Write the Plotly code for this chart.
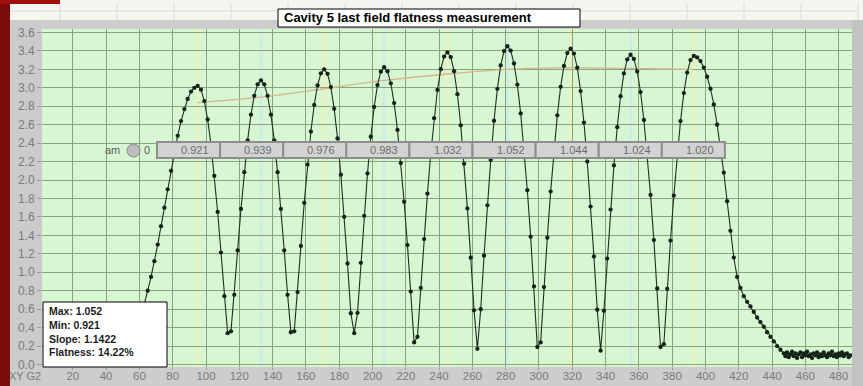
import plotly.graph_objects as go

# Bead-pull scan: bead position along the axis (mm) and field amplitude (a.u.)
position = [
    51, 53, 55, 57, 59, 61, 63, 65, 67, 69,
    71, 73, 75, 77, 79, 81, 83, 85, 87, 89,
    91, 93, 95, 97, 99, 101, 103, 105, 107, 109,
    111, 113, 115, 117, 119, 121, 123, 125, 127, 129,
    131, 133, 135, 137, 139, 141, 143, 145, 147, 149,
    151, 153, 155, 157, 159, 161, 163, 165, 167, 169,
    171, 173, 175, 177, 179, 181, 183, 185, 187, 189,
    191, 193, 195, 197, 199, 201, 203, 205, 207, 209,
    211, 213, 215, 217, 219, 221, 223, 225, 227, 229,
    231, 233, 235, 237, 239, 241, 243, 245, 247, 249,
    251, 253, 255, 257, 259, 261, 263, 265, 267, 269,
    271, 273, 275, 277, 279, 281, 283, 285, 287, 289,
    291, 293, 295, 297, 299, 301, 303, 305, 307, 309,
    311, 313, 315, 317, 319, 321, 323, 325, 327, 329,
    331, 333, 335, 337, 339, 341, 343, 345, 347, 349,
    351, 353, 355, 357, 359, 361, 363, 365, 367, 369,
    371, 373, 375, 377, 379, 381, 383, 385, 387, 389,
    391, 393, 395, 397, 399, 401, 403, 405, 407, 409,
    411, 413, 415, 417, 419, 421, 423, 425, 427, 429,
    431, 433, 435, 437, 439, 441, 443, 445,
    447, 448, 449, 450, 451, 452, 453, 454, 455, 456,
    457, 458, 459, 460, 461, 462, 463, 464, 465, 466,
    467, 468, 469, 470, 471, 472, 473, 474, 475, 476,
    477, 478, 479, 480, 481, 482, 483, 484, 485, 486,
    487,
]
field = [
    0.18, 0.22, 0.27, 0.33, 0.41, 0.52, 0.65, 0.80, 0.95, 1.12,
    1.30, 1.50, 1.70, 1.90, 2.10, 2.30, 2.48, 2.64, 2.77, 2.88,
    2.96, 3.00, 3.021, 2.980, 2.857, 2.657, 2.384, 2.046, 1.654, 1.214,
    0.741, 0.34, 0.36, 0.756, 1.237, 1.687, 2.086, 2.430, 2.709, 2.913,
    3.038, 3.080, 3.038, 2.913, 2.709, 2.430, 2.086, 1.687, 1.237, 0.756,
    0.35, 0.36, 0.785, 1.286, 1.753, 2.168, 2.526, 2.815, 3.027, 3.157,
    3.201, 3.152, 3.008, 2.772, 2.452, 2.058, 1.601, 1.095, 0.556, 0.34,
    0.560, 1.103, 1.612, 2.072, 2.470, 2.792, 3.030, 3.175, 3.224, 3.180,
    3.049, 2.835, 2.544, 2.184, 1.765, 1.295, 0.791, 0.24, 0.30, 0.830,
    1.360, 1.854, 2.293, 2.671, 2.977, 3.202, 3.339, 3.385, 3.334, 3.181,
    2.931, 2.593, 2.176, 1.693, 1.158, 0.588, 0.17, 0.599, 1.180, 1.726,
    2.218, 2.643, 2.989, 3.243, 3.399, 3.451, 3.404, 3.264, 3.035, 2.723,
    2.337, 1.890, 1.386, 0.847, 0.19, 0.24, 0.840, 1.375, 1.875, 2.319,
    2.702, 3.011, 3.238, 3.377, 3.424, 3.372, 3.218, 2.965, 2.623, 2.201,
    1.712, 1.171, 0.594, 0.15, 0.583, 1.149, 1.680, 2.159, 2.573, 2.909,
    3.156, 3.308, 3.359, 3.313, 3.177, 2.954, 2.651, 2.275, 1.839, 1.349,
    0.824, 0.19, 0.22, 0.821, 1.344, 1.832, 2.266, 2.640, 2.943, 3.165,
    3.301, 3.346, 3.33, 3.29, 3.22, 3.12, 2.99, 2.82, 2.60, 2.36,
    2.08, 1.77, 1.45, 1.16, 0.95, 0.83, 0.74, 0.68, 0.63, 0.57,
    0.51, 0.46, 0.41, 0.35, 0.30, 0.25, 0.20, 0.16,
    0.12, 0.09, 0.13, 0.08, 0.11, 0.14, 0.09, 0.12, 0.07, 0.11,
    0.13, 0.08, 0.12, 0.10, 0.14, 0.09, 0.11, 0.07, 0.12, 0.10,
    0.13, 0.08, 0.11, 0.09, 0.13, 0.10, 0.08, 0.12, 0.10, 0.14,
    0.09, 0.11, 0.08, 0.12, 0.10, 0.13, 0.09, 0.11, 0.12, 0.08,
    0.10,
]

# Per-cell results: peak position, normalised peak field, smoothed level
cell_peak_pos = [95, 133, 171, 207, 245, 281, 319, 355, 393]
cell_flatness = [0.921, 0.939, 0.976, 0.983, 1.032, 1.052, 1.044, 1.024, 1.020]
trend_level = [2.84, 2.90, 2.99, 3.08, 3.15, 3.20, 3.22, 3.21, 3.20]

x_tick_vals = [20, 40, 60, 80, 100, 120, 140, 160, 180, 200, 220, 240,
               260, 280, 300, 320, 340, 360, 380, 400, 420, 440, 460, 480]
y_tick_vals = [0.0, 0.2, 0.4, 0.6, 0.8, 1.0, 1.2, 1.4, 1.6, 1.8,
               2.0, 2.2, 2.4, 2.6, 2.8, 3.0, 3.2, 3.4, 3.6]

TITLE = "Cavity 5 last field flatness measurement"

# ---- page geometry (pixels); the grey strip below the x scale runs past the window ----
W, H = 863, 401
L, R, T = 42, 11, 29
PLOT_BOTTOM = 367
B = H - PLOT_BOTTOM
PW = W - L - R
PH = PLOT_BOTTOM - T


def px(x):
    return (x - L) / PW


def py(y):
    return (PLOT_BOTTOM - y) / PH


FONT = "Liberation Sans, Arial, sans-serif"
GRID = "#88a47b"
TICK_GREY = "#7b7b7b"

fig = go.Figure()

fig.add_trace(go.Scatter(
    x=cell_peak_pos, y=trend_level, mode="lines",
    line=dict(color="#d9b48e", width=1.3, shape="spline"),
    hoverinfo="skip", showlegend=False,
))
fig.add_trace(go.Scatter(
    x=position, y=field, mode="lines+markers",
    line=dict(color="#1f2f1f", width=1.1),
    marker=dict(size=4.3, color="#14221a"),
    showlegend=False,
))

shapes = []
annotations = []

# faint stripes marking each cell centre
for i, xp in enumerate(cell_peak_pos):
    shapes.append(dict(type="line", xref="x", yref="paper", x0=xp, x1=xp,
                       y0=0, y1=1, layer="below",
                       line=dict(color="#e9f2c0" if i % 2 == 0 else "#cdeee6", width=3)))

# header strip above the plot, window frame
shapes.append(dict(type="rect", xref="paper", yref="paper",
                   x0=px(0), x1=px(W), y0=py(20), y1=py(0),
                   fillcolor="#f6f6f1", line=dict(width=0), layer="below"))
shapes.append(dict(type="line", xref="paper", yref="paper",
                   x0=px(10), x1=px(W - 4), y0=py(11), y1=py(11),
                   line=dict(color="#dadada", width=1), layer="below"))
for hx in range(60, 860, 57):
    shapes.append(dict(type="line", xref="paper", yref="paper",
                       x0=px(hx), x1=px(hx), y0=py(20), y1=py(3),
                       line=dict(color="#d8d8d8", width=1), layer="below"))
shapes.append(dict(type="rect", xref="paper", yref="paper",
                   x0=px(10), x1=px(L), y0=py(H), y1=py(20),
                   fillcolor="#cbcbcb", line=dict(width=0), layer="below"))
shapes.append(dict(type="rect", xref="paper", yref="paper",
                   x0=px(W - R), x1=px(W), y0=py(H), y1=py(20),
                   fillcolor="#c2c2c2", line=dict(width=0), layer="below"))
shapes.append(dict(type="rect", xref="paper", yref="paper",
                   x0=px(0), x1=px(10), y0=py(H), y1=py(0),
                   fillcolor="#7a0b0b", line=dict(width=0), layer="below"))
shapes.append(dict(type="rect", xref="paper", yref="paper",
                   x0=px(0), x1=px(60), y0=py(4), y1=py(0),
                   fillcolor="#a30d0d", line=dict(width=0), layer="below"))

# title box
shapes.append(dict(type="rect", xref="paper", yref="paper",
                   x0=px(278), x1=px(580), y0=py(27), y1=py(9),
                   fillcolor="white", line=dict(color="black", width=1), layer="above"))
annotations.append(dict(xref="paper", yref="paper", x=px(282), y=py(18),
                        xanchor="left", yanchor="middle", showarrow=False,
                        text="<b>" + TITLE + "</b>",
                        font=dict(family=FONT, size=13, color="black")))

# row of per-cell value boxes
box_left, box_w, box_top, box_bot = 157, 63.1, 142, 158
for i, v in enumerate(cell_flatness):
    x0 = box_left + i * box_w
    shapes.append(dict(type="rect", xref="paper", yref="paper",
                       x0=px(x0), x1=px(x0 + box_w), y0=py(box_bot), y1=py(box_top),
                       fillcolor="#d3d3d3", line=dict(color="#8e8e8e", width=2),
                       layer="above"))
    annotations.append(dict(xref="paper", yref="paper", x=px(x0 + box_w - 9),
                            y=py((box_top + box_bot) / 2), xanchor="right",
                            yanchor="middle", showarrow=False, text=f"{v:.3f}",
                            font=dict(family=FONT, size=11, color="#6c6c6c")))

# control label and knob left of the box row
annotations.append(dict(xref="paper", yref="paper", x=px(112), y=py(150),
                        xanchor="center", yanchor="middle", showarrow=False,
                        text="am", font=dict(family=FONT, size=11, color="#5a5a5a")))
shapes.append(dict(type="circle", xref="paper", yref="paper",
                   x0=px(127), x1=px(140), y0=py(157), y1=py(144),
                   fillcolor="#bdbdbd", line=dict(color="#8a8a8a", width=1),
                   layer="above"))
annotations.append(dict(xref="paper", yref="paper", x=px(147), y=py(150),
                        xanchor="center", yanchor="middle", showarrow=False,
                        text="0", font=dict(family=FONT, size=11, color="#5a5a5a")))

# summary box
f_max = max(cell_flatness)
f_min = min(cell_flatness)
slope = f_max / f_min
flatness = (f_max - f_min) / f_min * 100
shapes.append(dict(type="rect", xref="paper", yref="paper",
                   x0=px(43), x1=px(167), y0=py(367), y1=py(302),
                   fillcolor="white", line=dict(color="black", width=1), layer="above"))
summary = [f"Max: {f_max:.3f}", f"Min: {f_min:.3f}",
           f"Slope: {slope:.4f}", f"Flatness: {flatness:.2f}%"]
for line_txt, ly in zip(summary, [311, 325, 338.5, 352]):
    annotations.append(dict(xref="paper", yref="paper", x=px(47), y=py(ly),
                            xanchor="left", yanchor="middle", showarrow=False,
                            text="<b>" + line_txt + "</b>",
                            font=dict(family=FONT, size=10.5, color="#1c1c1c")))

# corner caption left of the x scale
annotations.append(dict(xref="paper", yref="paper", x=px(25), y=py(376),
                        xanchor="center", yanchor="middle", showarrow=False,
                        text="XY G2", font=dict(family=FONT, size=11, color=TICK_GREY)))

fig.update_layout(
    width=W, height=H,
    margin=dict(l=L, r=R, t=T, b=B, pad=0),
    paper_bgcolor="#cdcdcd",
    plot_bgcolor="#d7f6d2",
    font=dict(family=FONT),
    shapes=shapes,
    annotations=annotations,
    xaxis=dict(
        range=[1.5, 488], tickmode="array", tickvals=x_tick_vals,
        ticktext=[str(v) for v in x_tick_vals],
        showgrid=True, gridcolor=GRID, gridwidth=1, zeroline=False,
        ticks="outside", ticklen=2, tickcolor="#9a9a9a",
        ticklabelstandoff=-4,
        tickfont=dict(family=FONT, size=11.5, color=TICK_GREY),
        showline=False, fixedrange=True,
    ),
    yaxis=dict(
        range=[-0.027, 3.638], tickmode="array", tickvals=y_tick_vals,
        ticktext=[f"{v:.1f}" for v in y_tick_vals],
        showgrid=True, gridcolor=GRID, gridwidth=1, zeroline=False,
        ticks="outside", ticklen=4, tickcolor="#9a9a9a",
        tickfont=dict(family=FONT, size=12, color=TICK_GREY),
        showline=False, fixedrange=True,
    ),
)

fig.write_html("out.html")
